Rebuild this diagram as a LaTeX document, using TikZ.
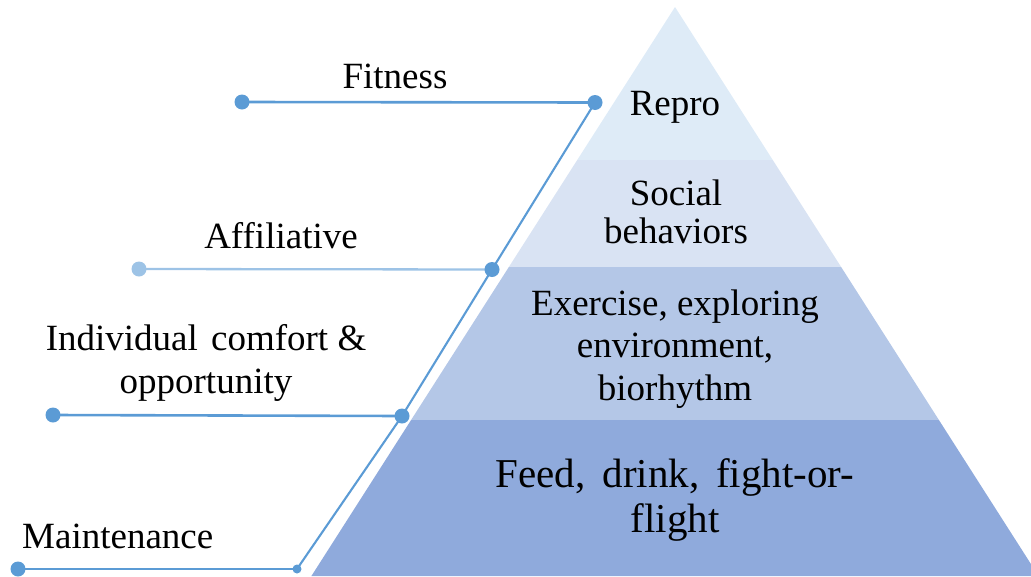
\documentclass[tikz,border=0pt]{standalone}
\usepackage{fontspec}
\setmainfont{Liberation Serif}
\usetikzlibrary{calc}
\usetikzlibrary{backgrounds}

\definecolor{linkblue}{RGB}{91,155,213}
\definecolor{linklight}{RGB}{157,195,230}
\definecolor{tierA}{RGB}{222,235,247}
\definecolor{tierB}{RGB}{217,227,243}
\definecolor{tierC}{RGB}{180,199,231}
\definecolor{tierD}{RGB}{143,170,220}

\tikzset{
    dot/.style={circle, fill=linkblue, inner sep=0pt, minimum size=15pt},
    smalldot/.style={circle, fill=linkblue, inner sep=0pt, minimum size=9pt},
    link/.style={draw=linkblue, line width=2.6pt},
    sidetext/.style={inner sep=0pt, anchor=base, align=center, font=\fontsize{37}{43}\selectfont},
    tiertext/.style={inner sep=0pt, anchor=base, align=center, font=\fontsize{37}{42.5}\selectfont}
}

\begin{document}
\begin{tikzpicture}[x=1pt,y=-1pt]
    \useasboundingbox (0,0) rectangle (1031,576);

    % pyramid tiers, apex at (675,7), cut off at the right border
    \begin{scope}
        \clip (0,0) rectangle (1031,576);
        \foreach \c/\a/\b in {tierA/7/160, tierB/160/267, tierC/267/420, tierD/420/576}{
            \fill[\c] ({675-0.639*(\a-7)},\a) -- ({675+0.639*(\a-7)},\a)
                -- ({675+0.639*(\b-7)},\b) -- ({675-0.639*(\b-7)},\b) -- cycle;
        }
    \end{scope}

    % tier texts (base = last line)
    \node[tiertext] (repro) at (675,115) {Repro};
    \node[tiertext, font=\fontsize{37}{38}\selectfont] (social) at (676,243) {Social\\behaviors};
    \node[tiertext] (exercise) at (675,400) {Exercise, exploring\\environment,\\biorhythm};
    \node[tiertext, font={\fontsize{41}{45}\selectfont\spaceskip=17pt\relax}] (feed) at (675,532) {Feed, drink, fight-or-\\flight};

    % end points of the leader lines
    \node[dot] (fitL) at (242,102) {};
    \node[dot] (fitR) at (595,102.5) {};
    \node[dot, fill=linklight] (affL) at (139,269) {};
    \node[dot] (affR) at (492,269.5) {};
    \node[dot] (indL) at (53,415) {};
    \node[dot] (indR) at (402,416) {};
    \node[dot] (mainL) at (18,569) {};
    \node[smalldot] (mainR) at (297,569) {};

    \begin{pgfonlayer}{background}
        \draw[link] (fitL.center) -- (fitR.center);
        \draw[link, draw=linklight, line width=2.3pt] (affL.center) -- (affR.center);
        \draw[link] (indL.center) -- (indR.center);
        \draw[link] (mainL.center) -- (mainR.center);
        \draw[link, line width=2.1pt] (fitR.center) -- (affR.center) -- (indR.center) -- (mainR.center);
    \end{pgfonlayer}

    \node[sidetext] (fitness) at (395,88) {Fitness};
    \node[sidetext] (affiliative) at (281,248) {Affiliative};
    \node[sidetext] (comfort) at (206,393) {Individual\hspace{4pt} comfort \&\\opportunity};
    \node[sidetext, anchor=base west] (maintenance) at (22,548) {Maintenance};
\end{tikzpicture}
\end{document}
